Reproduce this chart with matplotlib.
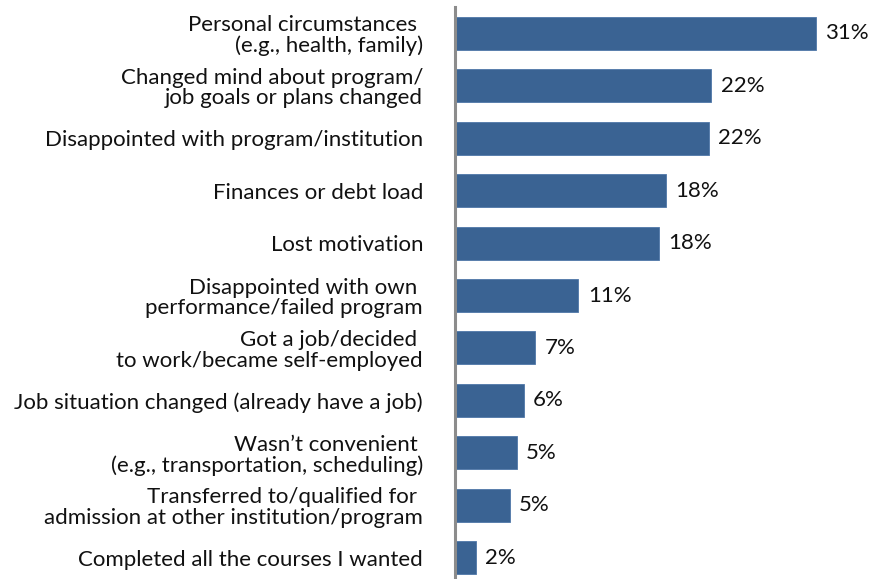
import matplotlib
matplotlib.use("Agg")
import matplotlib.pyplot as plt

reasons = [
    "Personal circumstances \n(e.g., health, family)",
    "Changed mind about program/\njob goals or plans changed",
    "Disappointed with program/institution",
    "Finances or debt load",
    "Lost motivation",
    "Disappointed with own \nperformance/failed program",
    "Got a job/decided \nto work/became self-employed",
    "Job situation changed (already have a job)",
    "Wasn\u2019t convenient \n(e.g., transportation, scheduling)",
    "Transferred to/qualified for \nadmission at other institution/program",
    "Completed all the courses I wanted",
]
shares = [31.0, 22.0, 21.8, 18.1, 17.5, 10.6, 6.9, 5.9, 5.3, 4.7, 1.8]

W, H = 869, 579
fig = plt.figure(figsize=(W / 100, H / 100), dpi=100)
plt.rcParams["font.family"] = ["Lato", "DejaVu Sans"]

left_px, right_px = 455, 869
top_px, bottom_px = 7, 584
ax = fig.add_axes([left_px / W, 1 - bottom_px / H,
                   (right_px - left_px) / W, (bottom_px - top_px) / H])

px_per_unit = 361 / 31.0
ax.set_xlim(0, (right_px - left_px) / px_per_unit)
ax.set_ylim(len(reasons) - 0.5, -0.5)

fs = 16
bar_color = "#3A6393"
ypos = list(range(len(reasons)))
ax.barh(ypos, shares, height=0.63, color=bar_color, edgecolor="#4F77A8",
        linewidth=0.6, zorder=2)

for y, v in zip(ypos, shares):
    ax.text(v + 0.8, y, f"{v:.0f}%", va="center", ha="left",
            fontsize=fs, color="#111111")

ax.set_yticks(ypos)
ax.set_yticklabels(reasons, fontsize=fs, color="#111111",
                   linespacing=1.05)
ax.tick_params(axis="y", length=0, pad=23)
ax.set_xticks([])

for side in ("top", "right", "bottom"):
    ax.spines[side].set_visible(False)
ax.spines["left"].set_color("#8C8C8C")
ax.spines["left"].set_linewidth(2.2)
ax.spines["left"].set_zorder(3)

fig.savefig("out.png", dpi=100, facecolor="white")
